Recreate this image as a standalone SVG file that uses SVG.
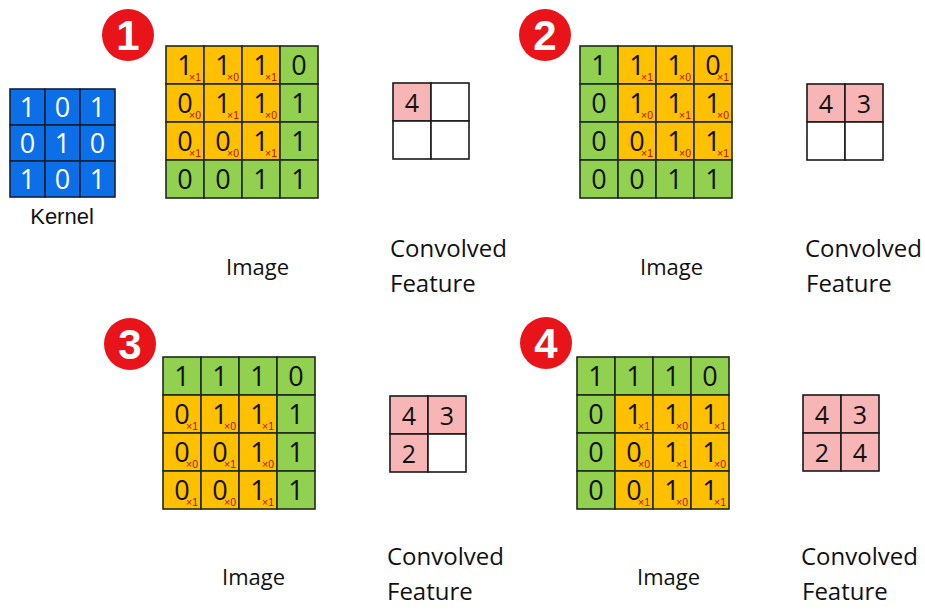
<svg xmlns="http://www.w3.org/2000/svg" width="925" height="610" viewBox="0 0 925 610">
<style>
.g{fill:#92d050;stroke:#1f2a1a;stroke-width:1.6}
.y{fill:#ffc000;stroke:#1f2a1a;stroke-width:1.6}
.k{fill:#0d6fe8;stroke:#10223a;stroke-width:1.6}
.p{fill:#f7b5b5;stroke:#1a1a1a;stroke-width:1.6}
.w{fill:#ffffff;stroke:#1a1a1a;stroke-width:1.6}
.d{font-family:"Open Sans","Liberation Sans",sans-serif;font-size:27px;fill:#111;text-anchor:middle}
.kd{font-family:"Open Sans","Liberation Sans",sans-serif;font-size:27px;fill:#fff;text-anchor:middle}
.fd{font-family:"Open Sans","Liberation Sans",sans-serif;font-size:25px;fill:#111;text-anchor:middle}
.s{font-family:"Liberation Sans",sans-serif;font-size:10.5px;fill:#b01010}
.lbl{font-family:"Open Sans","Liberation Sans",sans-serif;font-size:22px;fill:#111}
.cf{font-family:"Open Sans","Liberation Sans",sans-serif;font-size:24px;fill:#111}
.badge{fill:#e8141a}
.bn{font-family:"Liberation Sans",sans-serif;font-weight:bold;font-size:42px;fill:#fff;text-anchor:middle}
.kl{font-family:"Liberation Sans",sans-serif;font-size:22px;fill:#111;text-anchor:middle}
</style>

<g id="kernel">
<rect class="k" x="10" y="89" width="35" height="36"/><rect class="k" x="45" y="89" width="35" height="36"/><rect class="k" x="80" y="89" width="35" height="36"/>
<rect class="k" x="10" y="125" width="35" height="36"/><rect class="k" x="45" y="125" width="35" height="36"/><rect class="k" x="80" y="125" width="35" height="36"/>
<rect class="k" x="10" y="161" width="35" height="36"/><rect class="k" x="45" y="161" width="35" height="36"/><rect class="k" x="80" y="161" width="35" height="36"/>
<text class="kd" x="27.5" y="117">1</text><text class="kd" x="62.5" y="117">0</text><text class="kd" x="97.5" y="117">1</text>
<text class="kd" x="27.5" y="153">0</text><text class="kd" x="62.5" y="153">1</text><text class="kd" x="97.5" y="153">0</text>
<text class="kd" x="27.5" y="189">1</text><text class="kd" x="62.5" y="189">0</text><text class="kd" x="97.5" y="189">1</text>
<text class="kl" x="62" y="224">Kernel</text>
</g>

<g id="step1">
<circle class="badge" cx="128" cy="35" r="26"/><text class="bn" x="128" y="50">1</text>
<g id="image1">
<rect class="y" x="166" y="46" width="38" height="38"/><rect class="y" x="204" y="46" width="38" height="38"/><rect class="y" x="242" y="46" width="38" height="38"/><rect class="g" x="280" y="46" width="38" height="38"/>
<rect class="y" x="166" y="84" width="38" height="38"/><rect class="y" x="204" y="84" width="38" height="38"/><rect class="y" x="242" y="84" width="38" height="38"/><rect class="g" x="280" y="84" width="38" height="38"/>
<rect class="y" x="166" y="122" width="38" height="38"/><rect class="y" x="204" y="122" width="38" height="38"/><rect class="y" x="242" y="122" width="38" height="38"/><rect class="g" x="280" y="122" width="38" height="38"/>
<rect class="g" x="166" y="160" width="38" height="38"/><rect class="g" x="204" y="160" width="38" height="38"/><rect class="g" x="242" y="160" width="38" height="38"/><rect class="g" x="280" y="160" width="38" height="38"/>
<text class="d" x="185" y="75">1</text><text class="d" x="223" y="75">1</text><text class="d" x="261" y="75">1</text><text class="d" x="299" y="75">0</text>
<text class="d" x="185" y="113">0</text><text class="d" x="223" y="113">1</text><text class="d" x="261" y="113">1</text><text class="d" x="299" y="113">1</text>
<text class="d" x="185" y="151">0</text><text class="d" x="223" y="151">0</text><text class="d" x="261" y="151">1</text><text class="d" x="299" y="151">1</text>
<text class="d" x="185" y="189">0</text><text class="d" x="223" y="189">0</text><text class="d" x="261" y="189">1</text><text class="d" x="299" y="189">1</text>
<text class="s" x="189" y="81">×1</text><text class="s" x="227" y="81">×0</text><text class="s" x="265" y="81">×1</text>
<text class="s" x="189" y="119">×0</text><text class="s" x="227" y="119">×1</text><text class="s" x="265" y="119">×0</text>
<text class="s" x="189" y="157">×1</text><text class="s" x="227" y="157">×0</text><text class="s" x="265" y="157">×1</text>
</g>
<g id="feature1">
<rect class="p" x="393" y="83" width="38" height="38"/><rect class="w" x="431" y="83" width="38" height="38"/>
<rect class="w" x="393" y="121" width="38" height="38"/><rect class="w" x="431" y="121" width="38" height="38"/>
<text class="fd" x="412" y="112">4</text>
</g>
<text class="lbl" x="226" y="275">Image</text>
<text class="cf" x="390" y="257">Convolved</text>
<text class="cf" x="390" y="292">Feature</text>
</g>

<g id="step2">
<circle class="badge" cx="545" cy="35" r="26"/><text class="bn" x="545" y="50">2</text>
<g id="image2">
<rect class="g" x="580" y="46" width="38" height="38"/><rect class="y" x="618" y="46" width="38" height="38"/><rect class="y" x="656" y="46" width="38" height="38"/><rect class="y" x="694" y="46" width="38" height="38"/>
<rect class="g" x="580" y="84" width="38" height="38"/><rect class="y" x="618" y="84" width="38" height="38"/><rect class="y" x="656" y="84" width="38" height="38"/><rect class="y" x="694" y="84" width="38" height="38"/>
<rect class="g" x="580" y="122" width="38" height="38"/><rect class="y" x="618" y="122" width="38" height="38"/><rect class="y" x="656" y="122" width="38" height="38"/><rect class="y" x="694" y="122" width="38" height="38"/>
<rect class="g" x="580" y="160" width="38" height="38"/><rect class="g" x="618" y="160" width="38" height="38"/><rect class="g" x="656" y="160" width="38" height="38"/><rect class="g" x="694" y="160" width="38" height="38"/>
<text class="d" x="599" y="75">1</text><text class="d" x="637" y="75">1</text><text class="d" x="675" y="75">1</text><text class="d" x="713" y="75">0</text>
<text class="d" x="599" y="113">0</text><text class="d" x="637" y="113">1</text><text class="d" x="675" y="113">1</text><text class="d" x="713" y="113">1</text>
<text class="d" x="599" y="151">0</text><text class="d" x="637" y="151">0</text><text class="d" x="675" y="151">1</text><text class="d" x="713" y="151">1</text>
<text class="d" x="599" y="189">0</text><text class="d" x="637" y="189">0</text><text class="d" x="675" y="189">1</text><text class="d" x="713" y="189">1</text>
<text class="s" x="641" y="81">×1</text><text class="s" x="679" y="81">×0</text><text class="s" x="717" y="81">×1</text>
<text class="s" x="641" y="119">×0</text><text class="s" x="679" y="119">×1</text><text class="s" x="717" y="119">×0</text>
<text class="s" x="641" y="157">×1</text><text class="s" x="679" y="157">×0</text><text class="s" x="717" y="157">×1</text>
</g>
<g id="feature2">
<rect class="p" x="807" y="84" width="38" height="38"/><rect class="p" x="845" y="84" width="38" height="38"/>
<rect class="w" x="807" y="122" width="38" height="38"/><rect class="w" x="845" y="122" width="38" height="38"/>
<text class="fd" x="826" y="113">4</text><text class="fd" x="864" y="113">3</text>
</g>
<text class="lbl" x="640" y="275">Image</text>
<text class="cf" x="805" y="257">Convolved</text>
<text class="cf" x="806" y="292">Feature</text>
</g>

<g id="step3">
<circle class="badge" cx="130" cy="344" r="26"/><text class="bn" x="130" y="359">3</text>
<g id="image3">
<rect class="g" x="163" y="357" width="38" height="38"/><rect class="g" x="201" y="357" width="38" height="38"/><rect class="g" x="239" y="357" width="38" height="38"/><rect class="g" x="277" y="357" width="38" height="38"/>
<rect class="y" x="163" y="395" width="38" height="38"/><rect class="y" x="201" y="395" width="38" height="38"/><rect class="y" x="239" y="395" width="38" height="38"/><rect class="g" x="277" y="395" width="38" height="38"/>
<rect class="y" x="163" y="433" width="38" height="38"/><rect class="y" x="201" y="433" width="38" height="38"/><rect class="y" x="239" y="433" width="38" height="38"/><rect class="g" x="277" y="433" width="38" height="38"/>
<rect class="y" x="163" y="471" width="38" height="38"/><rect class="y" x="201" y="471" width="38" height="38"/><rect class="y" x="239" y="471" width="38" height="38"/><rect class="g" x="277" y="471" width="38" height="38"/>
<text class="d" x="182" y="386">1</text><text class="d" x="220" y="386">1</text><text class="d" x="258" y="386">1</text><text class="d" x="296" y="386">0</text>
<text class="d" x="182" y="424">0</text><text class="d" x="220" y="424">1</text><text class="d" x="258" y="424">1</text><text class="d" x="296" y="424">1</text>
<text class="d" x="182" y="462">0</text><text class="d" x="220" y="462">0</text><text class="d" x="258" y="462">1</text><text class="d" x="296" y="462">1</text>
<text class="d" x="182" y="500">0</text><text class="d" x="220" y="500">0</text><text class="d" x="258" y="500">1</text><text class="d" x="296" y="500">1</text>
<text class="s" x="186" y="430">×1</text><text class="s" x="224" y="430">×0</text><text class="s" x="262" y="430">×1</text>
<text class="s" x="186" y="468">×0</text><text class="s" x="224" y="468">×1</text><text class="s" x="262" y="468">×0</text>
<text class="s" x="186" y="506">×1</text><text class="s" x="224" y="506">×0</text><text class="s" x="262" y="506">×1</text>
</g>
<g id="feature3">
<rect class="p" x="390" y="396" width="38" height="38"/><rect class="p" x="428" y="396" width="38" height="38"/>
<rect class="p" x="390" y="434" width="38" height="38"/><rect class="w" x="428" y="434" width="38" height="38"/>
<text class="fd" x="409" y="425">4</text><text class="fd" x="447" y="425">3</text>
<text class="fd" x="409" y="463">2</text>
</g>
<text class="lbl" x="222" y="585">Image</text>
<text class="cf" x="387" y="565">Convolved</text>
<text class="cf" x="387" y="600">Feature</text>
</g>

<g id="step4">
<circle class="badge" cx="546" cy="343" r="26"/><text class="bn" x="546" y="358">4</text>
<g id="image4">
<rect class="g" x="577" y="357" width="38" height="38"/><rect class="g" x="615" y="357" width="38" height="38"/><rect class="g" x="653" y="357" width="38" height="38"/><rect class="g" x="691" y="357" width="38" height="38"/>
<rect class="g" x="577" y="395" width="38" height="38"/><rect class="y" x="615" y="395" width="38" height="38"/><rect class="y" x="653" y="395" width="38" height="38"/><rect class="y" x="691" y="395" width="38" height="38"/>
<rect class="g" x="577" y="433" width="38" height="38"/><rect class="y" x="615" y="433" width="38" height="38"/><rect class="y" x="653" y="433" width="38" height="38"/><rect class="y" x="691" y="433" width="38" height="38"/>
<rect class="g" x="577" y="471" width="38" height="38"/><rect class="y" x="615" y="471" width="38" height="38"/><rect class="y" x="653" y="471" width="38" height="38"/><rect class="y" x="691" y="471" width="38" height="38"/>
<text class="d" x="596" y="386">1</text><text class="d" x="634" y="386">1</text><text class="d" x="672" y="386">1</text><text class="d" x="710" y="386">0</text>
<text class="d" x="596" y="424">0</text><text class="d" x="634" y="424">1</text><text class="d" x="672" y="424">1</text><text class="d" x="710" y="424">1</text>
<text class="d" x="596" y="462">0</text><text class="d" x="634" y="462">0</text><text class="d" x="672" y="462">1</text><text class="d" x="710" y="462">1</text>
<text class="d" x="596" y="500">0</text><text class="d" x="634" y="500">0</text><text class="d" x="672" y="500">1</text><text class="d" x="710" y="500">1</text>
<text class="s" x="638" y="430">×1</text><text class="s" x="676" y="430">×0</text><text class="s" x="714" y="430">×1</text>
<text class="s" x="638" y="468">×0</text><text class="s" x="676" y="468">×1</text><text class="s" x="714" y="468">×0</text>
<text class="s" x="638" y="506">×1</text><text class="s" x="676" y="506">×0</text><text class="s" x="714" y="506">×1</text>
</g>
<g id="feature4">
<rect class="p" x="803" y="395" width="38" height="38"/><rect class="p" x="841" y="395" width="38" height="38"/>
<rect class="p" x="803" y="433" width="38" height="38"/><rect class="p" x="841" y="433" width="38" height="38"/>
<text class="fd" x="822" y="424">4</text><text class="fd" x="860" y="424">3</text>
<text class="fd" x="822" y="462">2</text><text class="fd" x="860" y="462">4</text>
</g>
<text class="lbl" x="637" y="585">Image</text>
<text class="cf" x="801" y="565">Convolved</text>
<text class="cf" x="802" y="600">Feature</text>
</g>
</svg>
